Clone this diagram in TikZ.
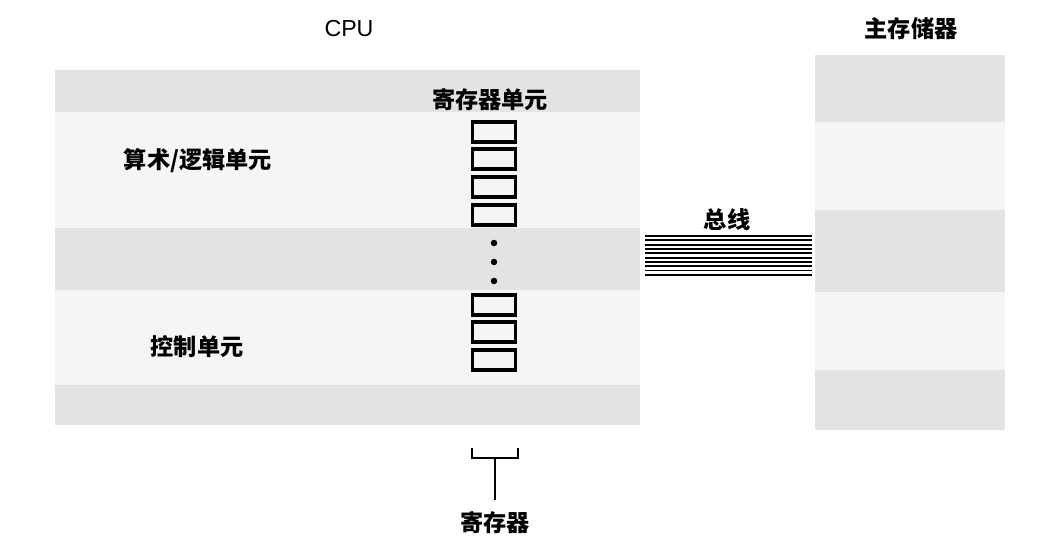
\documentclass[tikz,border=0pt]{standalone}
\usepackage{fontspec}
\setmainfont{Liberation Sans}
\newfontfamily\cjk{Noto Sans CJK SC}
\usetikzlibrary{positioning}

\begin{document}
\begin{tikzpicture}[x=0.025cm,y=-0.025cm,
  lbl/.style={font=\cjk\bfseries\fontsize{16.5}{18}\selectfont, inner sep=0pt},
  regbox/.style={draw, line width=2.6pt, minimum width=1.07cm, minimum height=0.5cm, inner sep=0pt},
  band/.style={fill=black!11, draw=none},
  area/.style={fill=black!4, draw=none}]
\useasboundingbox (0,0) rectangle (1063,556);
% shaded areas of the CPU and the main memory
\fill[area] (55,70) rectangle (640,425);
\fill[band] (55,70) rectangle (640,112);
\fill[band] (55,228) rectangle (640,290);
\fill[band] (55,385) rectangle (640,425);
\fill[area] (815,55) rectangle (1005,430);
\fill[band] (815,55) rectangle (1005,122);
\fill[band] (815,210) rectangle (1005,292);
\fill[band] (815,370) rectangle (1005,430);
% titles
\node[font=\fontsize{16.5}{18}\selectfont, inner sep=0pt] (cpu) at (349,29) {CPU};
\node[lbl] (mem) at (911,29) {主存储器};
\node[lbl] (alu) at (198,161) {算术/逻辑单元};
\node[lbl] (ctl) at (197,347) {控制单元};
\node[lbl] (regs) at (490,100) {寄存器单元};
% registers
\foreach \i/\y in {1/132,2/159,3/187,4/215,5/305,6/332,7/360}
  \node[regbox] (r\i) at (494,\y) {};
\foreach \y in {243,262,281}
  \fill (494,\y) circle (2.3pt);
% bracket
\coordinate (brkL) at (472,448);
\coordinate (brkR) at (518,448);
\coordinate (brkM) at (495,458);
\node[lbl] (reg) at (495,523) {寄存器};
\draw[line width=2pt] (brkL) -- (472,458) -- (518,458) -- (brkR);
\draw[line width=2pt] (brkM) -- (reg.north |- 0,500);
% bus
\node[lbl] (bus) at (727,220) {总线};
\coordinate (busL) at (645,236);
\coordinate (busR) at (812,236);
\foreach \k in {0,...,9}
  \draw[line width=1.3pt] ([yshift=-\k*0.108cm]busL) -- ([yshift=-\k*0.108cm]busR);
\end{tikzpicture}
\end{document}
